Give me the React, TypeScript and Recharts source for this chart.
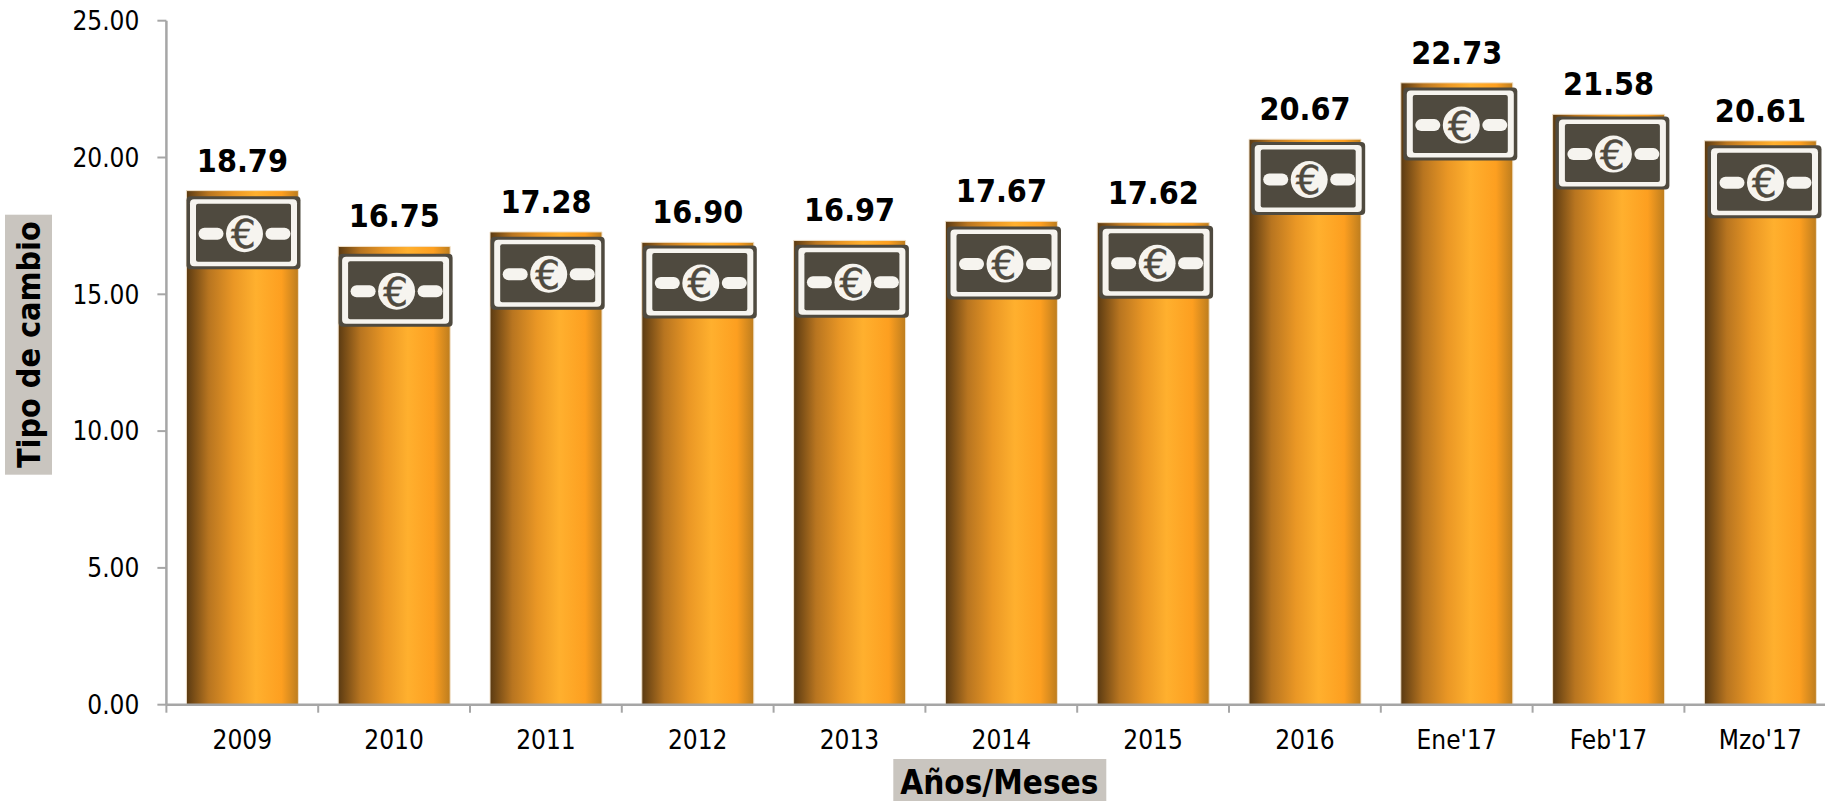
import { Bar, ComposedChart, LabelList, Line, XAxis, YAxis, Label } from "recharts";

const categories = ["2009", "2010", "2011", "2012", "2013", "2014", "2015", "2016", "Ene'17", "Feb'17", "Mzo'17"];
const rates = [18.79, 16.75, 17.28, 16.9, 16.97, 17.67, 17.62, 20.67, 22.73, 21.58, 20.61];
// the banknote pictures sit on their own hidden series, a bit under the bar tops
const noteLevels = [17.25, 15.15, 15.77, 15.45, 15.48, 16.14, 16.17, 19.23, 21.22, 20.16, 19.11];
const yTicks = [0, 5, 10, 15, 20, 25];

const rows = categories.map((name, i) => ({ name, rate: rates[i], note: noteLevels[i] }));

const FONT = "'DejaVu Sans Condensed', 'DejaVu Sans', sans-serif";
const AXIS_GRAY = "#a6a6a6";
const TITLE_BG = "#c9c5bf";
const NOTE_DARK = "#4f4a3f";
const NOTE_LIGHT = "#f6f4ef";
const CATEGORY_STEP = 151.8;

const Banknote = (props: any) => {
  const { cx, cy, index } = props;
  if (cx == null || cy == null) return null;
  // the pictures drift slightly to the right along the axis in the original
  const x = cx + 1.2 + index * 0.3;
  return (
    <g key={index} transform={`translate(${x},${cy})`}>
      <rect x={-57} y={-36.5} width={114} height={73} rx={4} fill={NOTE_DARK} />
      <rect x={-53.5} y={-33.5} width={107} height={67} rx={4} fill={NOTE_LIGHT} />
      <rect x={-47.5} y={-29} width={95} height={58} rx={2} fill={NOTE_DARK} />
      <rect x={-45} y={-5} width={25} height={12} rx={6} fill={NOTE_LIGHT} />
      <rect x={22} y={-5} width={25} height={12} rx={6} fill={NOTE_LIGHT} />
      <circle cx={1} cy={1} r={18.5} fill={NOTE_LIGHT} />
      <text
        x={0}
        y={2}
        textAnchor="middle"
        dominantBaseline="central"
        fontSize={39}
        fontFamily="'DejaVu Sans', sans-serif"
        stroke={NOTE_DARK}
        strokeWidth={0.4}
        fill={NOTE_DARK}>
        €
      </text>
    </g>
  );
};

const CategoryTick = (props: any) => {
  const { x, y, payload } = props;
  // tick marks fall between the categories, not under them
  const markX = x - CATEGORY_STEP / 2;
  return (
    <g>
      <line x1={markX} x2={markX} y1={y - 8} y2={y} stroke={AXIS_GRAY} strokeWidth={2} />
      <text x={x} y={y + 27} textAnchor="middle" dominantBaseline="central" fontSize={26} fontFamily={FONT} fill="#000">
        {payload.value}
      </text>
    </g>
  );
};

const YTitle = (props: any) => {
  const { viewBox } = props;
  const cy = viewBox.y + viewBox.height / 2 - 18;
  return (
    <g>
      <rect x={5} y={cy - 130} width={47} height={260} fill={TITLE_BG} />
      <text
        x={29}
        y={cy}
        transform={`rotate(-90 29 ${cy})`}
        textAnchor="middle"
        dominantBaseline="central"
        fontSize={32}
        fontWeight="bold"
        fontFamily={FONT}
        fill="#000">
        Tipo de cambio
      </text>
    </g>
  );
};

const XTitle = (props: any) => {
  const { viewBox } = props;
  const cx = viewBox.x + viewBox.width / 2;
  return (
    <g>
      <rect x={cx - 108} y={759} width={213} height={42} fill={TITLE_BG} />
      <text
        x={cx - 2}
        y={782}
        textAnchor="middle"
        dominantBaseline="central"
        fontSize={33}
        fontWeight="bold"
        fontFamily={FONT}
        fill="#000">
        Años/Meses
      </text>
    </g>
  );
};

export default function App() {
  return (
    <div style={{ position: "absolute", left: 0, top: 0, width: 1825, height: 801, overflow: "hidden" }}>
      <ComposedChart
        width={1840}
        height={801}
        data={rows}
        margin={{ top: 20.7, right: 3.8, bottom: 0, left: 0 }}>
        <defs>
          <linearGradient id="barFill" x1="0" y1="0" x2="1" y2="0">
            <stop offset="0%" stopColor="#5a3a12" />
            <stop offset="20%" stopColor="#b87520" />
            <stop offset="42%" stopColor="#ea9725" />
            <stop offset="62%" stopColor="#ffb02e" />
            <stop offset="85%" stopColor="#fd9f20" />
            <stop offset="100%" stopColor="#bd7d1e" />
          </linearGradient>
        </defs>
        <XAxis
          dataKey="name"
          height={96.3}
          interval={0}
          tick={<CategoryTick />}
          tickLine={false}
          axisLine={{ stroke: AXIS_GRAY, strokeWidth: 2.5 }}>
          <Label content={<XTitle />} />
        </XAxis>
        <YAxis
          width={166.4}
          domain={[0, 25]}
          ticks={yTicks}
          tickFormatter={(v: number) => v.toFixed(2)}
          tickSize={9}
          tickMargin={18}
          tick={{ fontSize: 26, fontFamily: FONT, fill: "#000" }}
          tickLine={{ stroke: AXIS_GRAY, strokeWidth: 2 }}
          axisLine={{ stroke: AXIS_GRAY, strokeWidth: 2.5 }}>
          <Label content={<YTitle />} />
        </YAxis>
        <Bar dataKey="rate" barSize={112} fill="url(#barFill)" stroke="#f2e3cc" strokeWidth={1} isAnimationActive={false}>
          <LabelList
            dataKey="rate"
            position="top"
            offset={19}
            formatter={(v: number) => v.toFixed(2)}
            style={{ fontSize: 32, fontWeight: "bold", fontFamily: FONT, fill: "#000" }}
          />
        </Bar>
        <Line
          dataKey="note"
          stroke="none"
          legendType="none"
          dot={(p: any) => <Banknote {...p} key={p.index} />}
          activeDot={false}
          isAnimationActive={false}
        />
      </ComposedChart>
    </div>
  );
}
